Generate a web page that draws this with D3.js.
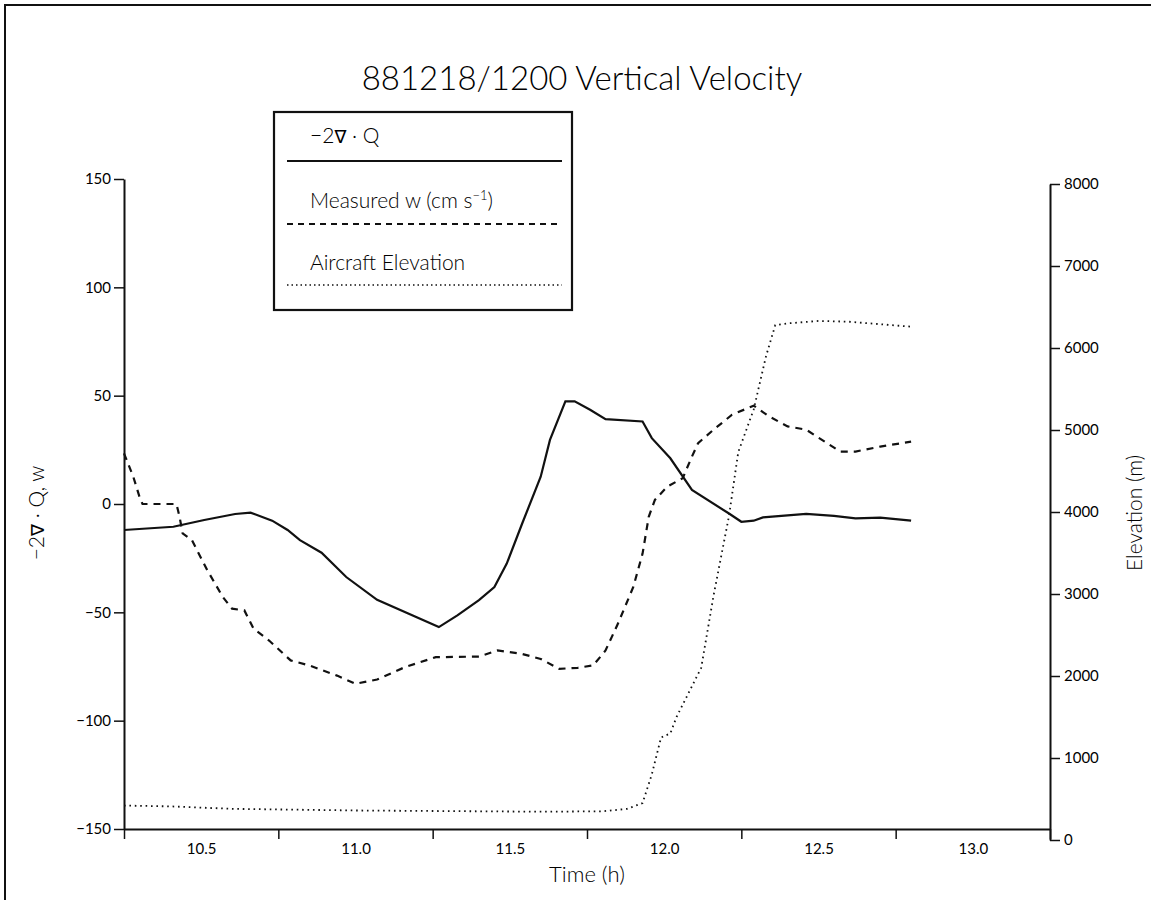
<!DOCTYPE html>
<html>
<head>
<meta charset="utf-8">
<script src="https://cdn.jsdelivr.net/npm/d3@7"></script>
<style>
  body { margin: 0; background: #fff; }
  text { font-family: Lato, "Noto Sans", sans-serif; font-weight: 300; fill: #000; }
  .nabla { font-family: "DejaVu Sans", sans-serif; font-weight: normal; font-size: 0.85em; }
</style>
</head>
<body>
<div id="chart"></div>
<script>
// time (h) and -2 div Q
var timeQ = [10.25, 10.41, 10.51, 10.61, 10.66, 10.73, 10.78, 10.82, 10.89, 10.97, 11.07, 11.27, 11.33, 11.40, 11.45, 11.49, 11.54, 11.60, 11.63, 11.68, 11.71, 11.76, 11.81, 11.93, 11.96, 12.02, 12.09, 12.21, 12.25, 12.29, 12.32, 12.46, 12.55, 12.62, 12.70, 12.80];
var divQ = [-12, -10.5, -7.4, -4.6, -4.0, -7.7, -12, -16.7, -22.5, -33.7, -44.2, -56.8, -51.4, -44.4, -38.3, -27.5, -9, 12.6, 29.6, 47.4, 47.4, 43.5, 39.2, 38.1, 30.4, 21.1, 6.5, -4.4, -8.2, -7.7, -6.2, -4.6, -5.5, -6.6, -6.3, -7.7];

// measured w (cm/s)
var timeW = [10.25, 10.28, 10.30, 10.31, 10.42, 10.43, 10.44, 10.47, 10.52, 10.57, 10.60, 10.64, 10.67, 10.72, 10.79, 10.85, 10.94, 11.00, 11.07, 11.16, 11.26, 11.40, 11.46, 11.54, 11.60, 11.66, 11.72, 11.77, 11.81, 11.85, 11.90, 11.93, 11.95, 11.97, 12.01, 12.06, 12.09, 12.11, 12.16, 12.22, 12.29, 12.34, 12.40, 12.46, 12.52, 12.57, 12.62, 12.70, 12.80];
var measuredW = [23.4, 12.6, 3.4, 0, 0, -5.9, -13.6, -16.7, -30.6, -42.9, -48.3, -49.1, -57.6, -63, -72.2, -74.5, -79.2, -83, -81, -75.3, -70.7, -70.4, -67.6, -69.2, -71.5, -76.1, -75.6, -74.5, -67.6, -55.3, -38.3, -22.9, -5.9, 1.9, 8, 11.9, 21.9, 28.1, 34.3, 41.2, 45.4, 40.4, 35.8, 34.3, 28.8, 24.2, 24.2, 26.5, 28.8];

// aircraft elevation (m)
var timeE = [10.25, 10.4, 10.6, 10.8, 11.0, 11.2, 11.4, 11.6, 11.8, 11.88, 11.93, 11.96, 11.99, 12.02, 12.04, 12.08, 12.12, 12.16, 12.21, 12.24, 12.29, 12.33, 12.36, 12.40, 12.5, 12.6, 12.7, 12.8];
var elevation = [420, 410, 380, 370, 360, 355, 350, 345, 350, 380, 450, 800, 1250, 1300, 1500, 1800, 2100, 2980, 3950, 4730, 5250, 5900, 6280, 6300, 6330, 6320, 6290, 6260];

var leftTicks = [-150, -100, -50, 0, 50, 100, 150];
var rightTicks = [0, 1000, 2000, 3000, 4000, 5000, 6000, 7000, 8000];
var xTickMarks = [10.25, 10.75, 11.25, 11.75, 12.25, 12.75, 13.25];
var xTickLabels = [10.5, 11.0, 11.5, 12.0, 12.5, 13.0];

var width = 1151, height = 921;
var x0 = 124, x1 = 1050, yTop = 179, yBot = 829;

var svg = d3.select("#chart").append("svg")
    .attr("width", width)
    .attr("height", height);

svg.append("rect").attr("width", width).attr("height", height).attr("fill", "#fff");

// scanned page frame
svg.append("path")
    .attr("d", "M5,900 V5 H1151")
    .attr("fill", "none").attr("stroke", "#111").attr("stroke-width", 2);

var x = d3.scaleLinear().domain([10.25, 13.25]).range([x0, x1]);
var yL = d3.scaleLinear().domain([-150, 150]).range([yBot, yTop]);
var yR = d3.scaleLinear().domain([0, 8000]).range([840, 184]);

// axes
svg.append("g").attr("transform", "translate(0," + yBot + ")")
    .call(d3.axisBottom(x).tickValues(xTickMarks).tickFormat("").tickSize(10).tickSizeOuter(0));
var gxl = svg.append("g").attr("transform", "translate(0," + yBot + ")")
    .call(d3.axisBottom(x).tickValues(xTickLabels).tickFormat(d3.format(".1f")).tickSize(0).tickPadding(14));
gxl.select(".domain").remove();

svg.append("g").attr("transform", "translate(" + x0 + ",0)")
    .call(d3.axisLeft(yL).tickValues(leftTicks).tickSize(10).tickSizeOuter(0).tickPadding(3)
        .tickFormat(function(d){ return d < 0 ? "\u2212" + Math.abs(d) : d; }));

svg.append("g").attr("transform", "translate(" + x1 + ",0)")
    .call(d3.axisRight(yR).tickValues(rightTicks).tickSize(10).tickSizeOuter(0).tickPadding(4)
        .tickFormat(d3.format("d")));

svg.selectAll(".domain").attr("stroke", "#111").attr("stroke-width", 2);
svg.selectAll(".tick line").attr("stroke", "#111").attr("stroke-width", 1.5);
svg.selectAll(".tick text").attr("font-size", 15).style("font-weight", 400).style("fill", "#000");

// writes "−2∇ · Q" with the nabla in a font that has a light glyph
function divQText(sel, rest) {
    sel.append("tspan").text("\u22122");
    sel.append("tspan").attr("class", "nabla").text("\u2207");
    sel.append("tspan").text(" \u00b7 Q" + rest);
}

// titles
svg.append("text").attr("x", 582).attr("y", 90).attr("text-anchor", "middle")
    .attr("font-size", 33).text("881218/1200 Vertical Velocity");
svg.append("text").attr("x", 587).attr("y", 882).attr("text-anchor", "middle")
    .attr("font-size", 22).text("Time (h)");
svg.append("text").attr("transform", "translate(44,513) rotate(-90)").attr("text-anchor", "middle")
    .attr("font-size", 21).call(divQText, ", w");
svg.append("text").attr("transform", "translate(1142,513) rotate(-90)").attr("text-anchor", "middle")
    .attr("font-size", 21).text("Elevation (m)");

// lines
function mkLine(yScale) {
    return d3.line()
        .x(function(d){ return x(d[0]); })
        .y(function(d){ return yScale(d[1]); });
}

svg.append("path")
    .datum(d3.zip(timeE, elevation))
    .attr("d", mkLine(yR))
    .attr("fill", "none").attr("stroke", "#111").attr("stroke-width", 1.8)
    .attr("stroke-dasharray", "1.6,3.8");

svg.append("path")
    .datum(d3.zip(timeW, measuredW))
    .attr("d", mkLine(yL))
    .attr("fill", "none").attr("stroke", "#111").attr("stroke-width", 2.2)
    .attr("stroke-dasharray", "7,6");

svg.append("path")
    .datum(d3.zip(timeQ, divQ))
    .attr("d", mkLine(yL))
    .attr("fill", "none").attr("stroke", "#111").attr("stroke-width", 2.2);

// legend
var lg = svg.append("g");
lg.append("rect").attr("x", 274).attr("y", 112).attr("width", 298).attr("height", 198)
    .attr("fill", "#fff").attr("stroke", "#111").attr("stroke-width", 2.2);

var legendItems = [
    {label: "divQ", ty: 143, ly: 161, dash: null, w: 1.8},
    {label: "Measured w (cm s", ty: 208, ly: 224, dash: "6,5", w: 1.8},
    {label: "Aircraft Elevation", ty: 270, ly: 285, dash: "1.5,3", w: 1.6}
];
legendItems.forEach(function(d){
    var t = lg.append("text").attr("x", 310).attr("y", d.ty).attr("font-size", 21);
    if (d.label === "divQ") {
        t.call(divQText, "");
    } else {
        t.text(d.label);
    }
    if (d.label.indexOf("Measured") === 0) {
        t.append("tspan").attr("dy", -8).attr("font-size", 13).text("\u22121");
        t.append("tspan").attr("dy", 8).text(")");
    }
    lg.append("line").attr("x1", 287).attr("x2", 562).attr("y1", d.ly).attr("y2", d.ly)
        .attr("stroke", "#111").attr("stroke-width", d.w)
        .attr("stroke-dasharray", d.dash);
});
</script>
</body>
</html>
